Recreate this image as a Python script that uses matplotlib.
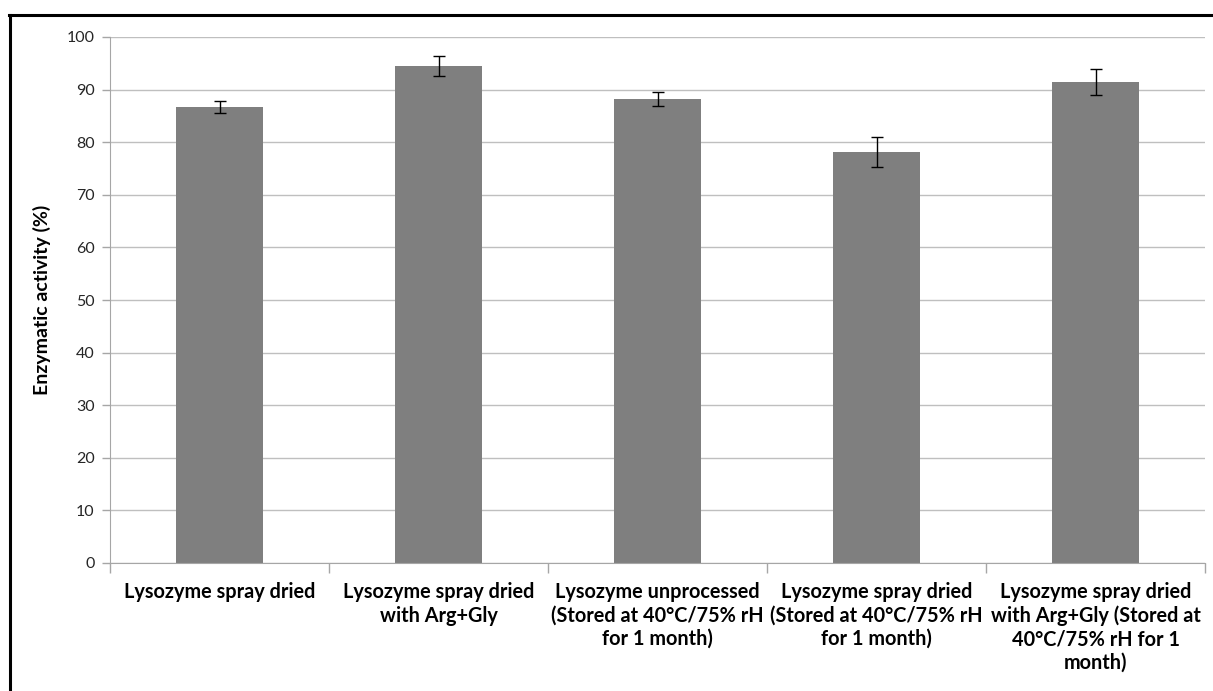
import matplotlib.pyplot as plt
from matplotlib.lines import Line2D

# Enzymatic activity of lysozyme samples
categories = [
    "Lysozyme spray dried",
    "Lysozyme spray dried\nwith Arg+Gly",
    "Lysozyme unprocessed\n(Stored at 40°C/75% rH\nfor 1 month)",
    "Lysozyme spray dried\n(Stored at 40°C/75% rH\nfor 1 month)",
    "Lysozyme spray dried\nwith Arg+Gly (Stored at\n40°C/75% rH for 1\nmonth)",
]
activity = [86.7, 94.4, 88.2, 78.2, 91.5]
errors = [1.2, 1.9, 1.3, 2.85, 2.5]
y_ticks = [0, 10, 20, 30, 40, 50, 60, 70, 80, 90, 100]

plt.rcParams['font.family'] = ['Lato', 'DejaVu Sans']

fig = plt.figure(figsize=(12.13, 6.91), dpi=100)
ax = fig.add_axes([110 / 1213, 1 - 563 / 691, 1095 / 1213, 526 / 691])

x = list(range(len(categories)))
ax.bar(x, activity, width=0.4, color='#7f7f7f', zorder=2)
ax.errorbar(x, activity, yerr=errors, fmt='none', ecolor='black',
            elinewidth=1, capsize=4, capthick=1, zorder=3)

ax.set_xlim(-0.5, len(categories) - 0.5)
ax.set_ylim(0, 100)
ax.set_yticks(y_ticks)
ax.yaxis.grid(True, color='#bfbfbf', linewidth=1, zorder=0)
ax.set_axisbelow(True)

# category labels under the bars, tick marks between categories
ax.set_xticks(x)
ax.set_xticklabels(categories, fontsize=14.3, fontweight='bold', linespacing=1.2, va='top')
ax.tick_params(axis='x', length=0, pad=14)
ax.set_xticks([i - 0.5 for i in range(len(categories) + 1)], minor=True)
ax.tick_params(axis='x', which='minor', length=7, color='#a6a6a6', width=1)
ax.tick_params(axis='y', length=6, color='#a6a6a6', width=1, labelsize=11.5, pad=5,
               labelcolor='#262626')

for side in ['top', 'right']:
    ax.spines[side].set_visible(False)
ax.spines['left'].set_color('#a6a6a6')
ax.spines['bottom'].set_color('#a6a6a6')

ax.set_ylabel("Enzymatic activity (%)", fontsize=14, fontweight='bold', labelpad=11)

# border frame at the top and left edge of the picture
fig.add_artist(Line2D([9 / 1213, 1], [1 - 15 / 691, 1 - 15 / 691], color='black', linewidth=2.2, transform=fig.transFigure))
fig.add_artist(Line2D([10 / 1213, 10 / 1213], [0, 1 - 15 / 691], color='black', linewidth=2.2, transform=fig.transFigure))

fig.savefig("out.png", dpi=100)
